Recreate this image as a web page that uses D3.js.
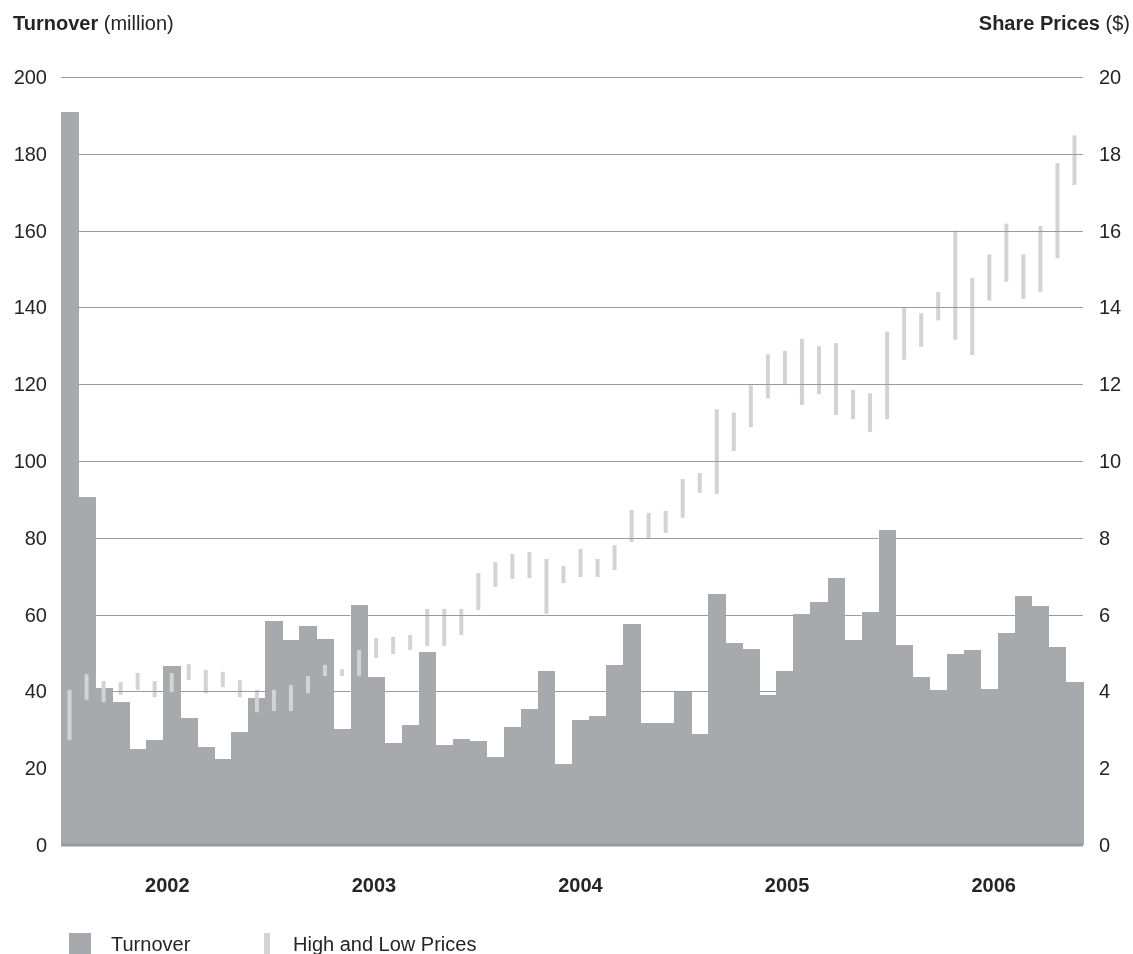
<!DOCTYPE html>
<html>
<head>
<meta charset="utf-8">
<script src="https://cdn.jsdelivr.net/npm/d3@7"></script>
<style>
  html, body { margin: 0; padding: 0; background: #fff; }
  svg { display: block; }
  text { font-family: "Liberation Sans", Arial, Helvetica, sans-serif; }
</style>
</head>
<body>
<svg id="chart" width="1133" height="954"></svg>
<script>
// Monthly turnover (million shares) and monthly high/low share price ($), 2002–2006
const years = ["2002", "2003", "2004", "2005", "2006"];
const months = years.flatMap(y => d3.range(1, 13).map(m => `${y}-${String(m).padStart(2, "0")}`));

const turnover = [
  191.0, 90.6, 40.9, 37.2, 25.0, 27.3, 46.6, 33.1, 25.5, 22.4, 29.4, 38.3,
  58.3, 53.4, 57.0, 53.6, 30.2, 62.5, 43.8, 26.6, 31.2, 50.3, 26.0, 27.6,
  27.1, 22.9, 30.7, 35.4, 45.3, 21.1, 32.6, 33.6, 46.9, 57.6, 31.8, 31.8,
  39.8, 28.9, 65.4, 52.6, 51.0, 39.1, 45.3, 60.2, 63.3, 69.5, 53.4, 60.7,
  82.0, 52.1, 43.8, 40.4, 49.7, 50.8, 40.6, 55.2, 64.8, 62.2, 51.6, 42.4
];

const priceHigh = [
  4.04, 4.45, 4.27, 4.24, 4.48, 4.27, 4.48, 4.71, 4.56, 4.51, 4.30, 4.04,
  4.04, 4.17, 4.40, 4.69, 4.58, 5.08, 5.39, 5.42, 5.47, 6.15, 6.15, 6.15,
  7.08, 7.37, 7.58, 7.63, 7.45, 7.27, 7.71, 7.45, 7.81, 8.72, 8.65, 8.70,
  9.53, 9.69, 11.35, 11.26, 11.97, 12.78, 12.87, 13.18, 12.99, 13.07, 11.85, 11.76,
  13.37, 13.99, 13.85, 14.40, 16.00, 14.77, 15.38, 16.18, 15.38, 16.12, 17.76, 18.48
];

const priceLow = [
  2.73, 3.78, 3.72, 3.91, 4.04, 3.85, 3.98, 4.30, 3.95, 4.11, 3.85, 3.46,
  3.49, 3.49, 3.95, 4.40, 4.40, 4.40, 4.87, 4.97, 5.08, 5.18, 5.18, 5.47,
  6.12, 6.72, 6.93, 6.95, 6.02, 6.82, 6.98, 6.98, 7.16, 7.89, 7.99, 8.13,
  8.52, 9.17, 9.14, 10.26, 10.88, 11.63, 11.98, 11.46, 11.74, 11.20, 11.09, 10.76,
  11.09, 12.64, 12.97, 13.66, 13.16, 12.76, 14.18, 14.67, 14.22, 14.40, 15.28, 17.19
];

const turnoverTicks = d3.range(0, 201, 20);
const priceTicks = d3.range(0, 21, 2);

const data = months.map((m, i) => ({
  month: m, turnover: turnover[i], high: priceHigh[i], low: priceLow[i]
}));

// Plot frame
const plotLeft = 61, plotRight = 1083, plotTop = 77, plotBottom = 845;
const svg = d3.select("#chart");

const x = d3.scaleBand().domain(months).range([plotLeft, plotRight]).padding(0);
const xYear = d3.scaleBand().domain(years).range([64, 1097]);
const yT = d3.scaleLinear().domain([0, 200]).range([plotBottom, plotTop]);
const yP = d3.scaleLinear().domain([0, 20]).range([plotBottom, plotTop]);

const BAR = "#a8a9ac", PRICE = "#d3d3d3", GRID = "#9b9b9b", INK = "#252525";

// Stepped outline of the turnover bars, used to keep grid lines out of the bars
const stepArea = d3.area()
  .curve(d3.curveStepAfter)
  .x(d => d.x)
  .y0(plotBottom)
  .y1(d => d.y);
const steps = data.map(d => ({ x: x(d.month), y: yT(d.turnover) }));
steps.push({ x: plotRight, y: yT(data[data.length - 1].turnover) });

const defs = svg.append("defs");
const mask = defs.append("mask").attr("id", "open-area").attr("maskUnits", "userSpaceOnUse")
  .attr("x", 0).attr("y", 0).attr("width", 1133).attr("height", 954);
mask.append("rect").attr("x", 0).attr("y", 0).attr("width", 1133).attr("height", 954).attr("fill", "#fff");
mask.append("path").attr("d", stepArea(steps)).attr("fill", "#000");

// Turnover bars (adjacent, no gaps)
svg.append("g").selectAll("rect").data(data).join("rect")
  .attr("x", d => x(d.month))
  .attr("width", x.bandwidth() + 0.5)
  .attr("y", d => yT(d.turnover))
  .attr("height", d => plotBottom - yT(d.turnover))
  .attr("fill", BAR)
  .attr("shape-rendering", "crispEdges");

// High / low price ranges
svg.append("g").selectAll("line").data(data).join("line")
  .attr("x1", d => x(d.month) + x.bandwidth() / 2)
  .attr("x2", d => x(d.month) + x.bandwidth() / 2)
  .attr("y1", d => yP(d.high))
  .attr("y2", d => yP(d.low))
  .attr("stroke", PRICE)
  .attr("stroke-width", 4);

// Horizontal grid lines (wrapped so the mask works in page coordinates)
const gridWrap = svg.append("g").attr("mask", "url(#open-area)");
const grid = gridWrap.append("g")
  .attr("transform", `translate(${plotLeft},0)`)
  .call(d3.axisLeft(yT).tickValues(turnoverTicks.filter(v => v > 0)).tickSize(-(plotRight - plotLeft)).tickFormat(""));
grid.select(".domain").remove();
grid.selectAll(".tick line").attr("stroke", GRID).attr("stroke-width", 1).attr("shape-rendering", "crispEdges");

// Base line
svg.append("rect")
  .attr("x", plotLeft).attr("width", plotRight - plotLeft)
  .attr("y", plotBottom - 1.5).attr("height", 3)
  .attr("fill", "#97989b");

// Left axis labels (turnover)
const axL = svg.append("g")
  .attr("transform", `translate(${plotLeft},0)`)
  .call(d3.axisLeft(yT).tickValues(turnoverTicks).tickSize(0).tickPadding(14));
axL.select(".domain").remove();
axL.selectAll("text").attr("font-size", 20).attr("fill", INK).attr("font-family", null);

// Right axis labels (share price)
const axR = svg.append("g")
  .attr("transform", `translate(${plotRight},0)`)
  .call(d3.axisRight(yP).tickValues(priceTicks).tickSize(0).tickPadding(16));
axR.select(".domain").remove();
axR.selectAll("text").attr("font-size", 20).attr("fill", INK).attr("font-family", null);

// Year labels
svg.append("g").selectAll("text").data(years).join("text")
  .attr("x", d => xYear(d) + xYear.bandwidth() / 2)
  .attr("y", 892)
  .attr("text-anchor", "middle")
  .attr("font-size", 20)
  .attr("font-weight", "bold")
  .attr("fill", INK)
  .text(d => d);

// Axis titles
const tl = svg.append("text").attr("x", 13).attr("y", 30).attr("font-size", 20).attr("fill", INK);
tl.append("tspan").attr("font-weight", "bold").text("Turnover");
tl.append("tspan").text(" (million)");

const tr = svg.append("text").attr("x", 1130).attr("y", 30).attr("font-size", 20)
  .attr("text-anchor", "end").attr("fill", INK);
tr.append("tspan").attr("font-weight", "bold").text("Share Prices");
tr.append("tspan").text(" ($)");

// Legend
const legend = svg.append("g");
legend.append("rect").attr("x", 69).attr("y", 933).attr("width", 22).attr("height", 22).attr("fill", BAR);
legend.append("text").attr("x", 111).attr("y", 951).attr("font-size", 20).attr("fill", INK).text("Turnover");
legend.append("rect").attr("x", 264).attr("y", 933).attr("width", 6).attr("height", 22).attr("fill", PRICE);
legend.append("text").attr("x", 293).attr("y", 951).attr("font-size", 20).attr("fill", INK).text("High and Low Prices");
</script>
</body>
</html>
